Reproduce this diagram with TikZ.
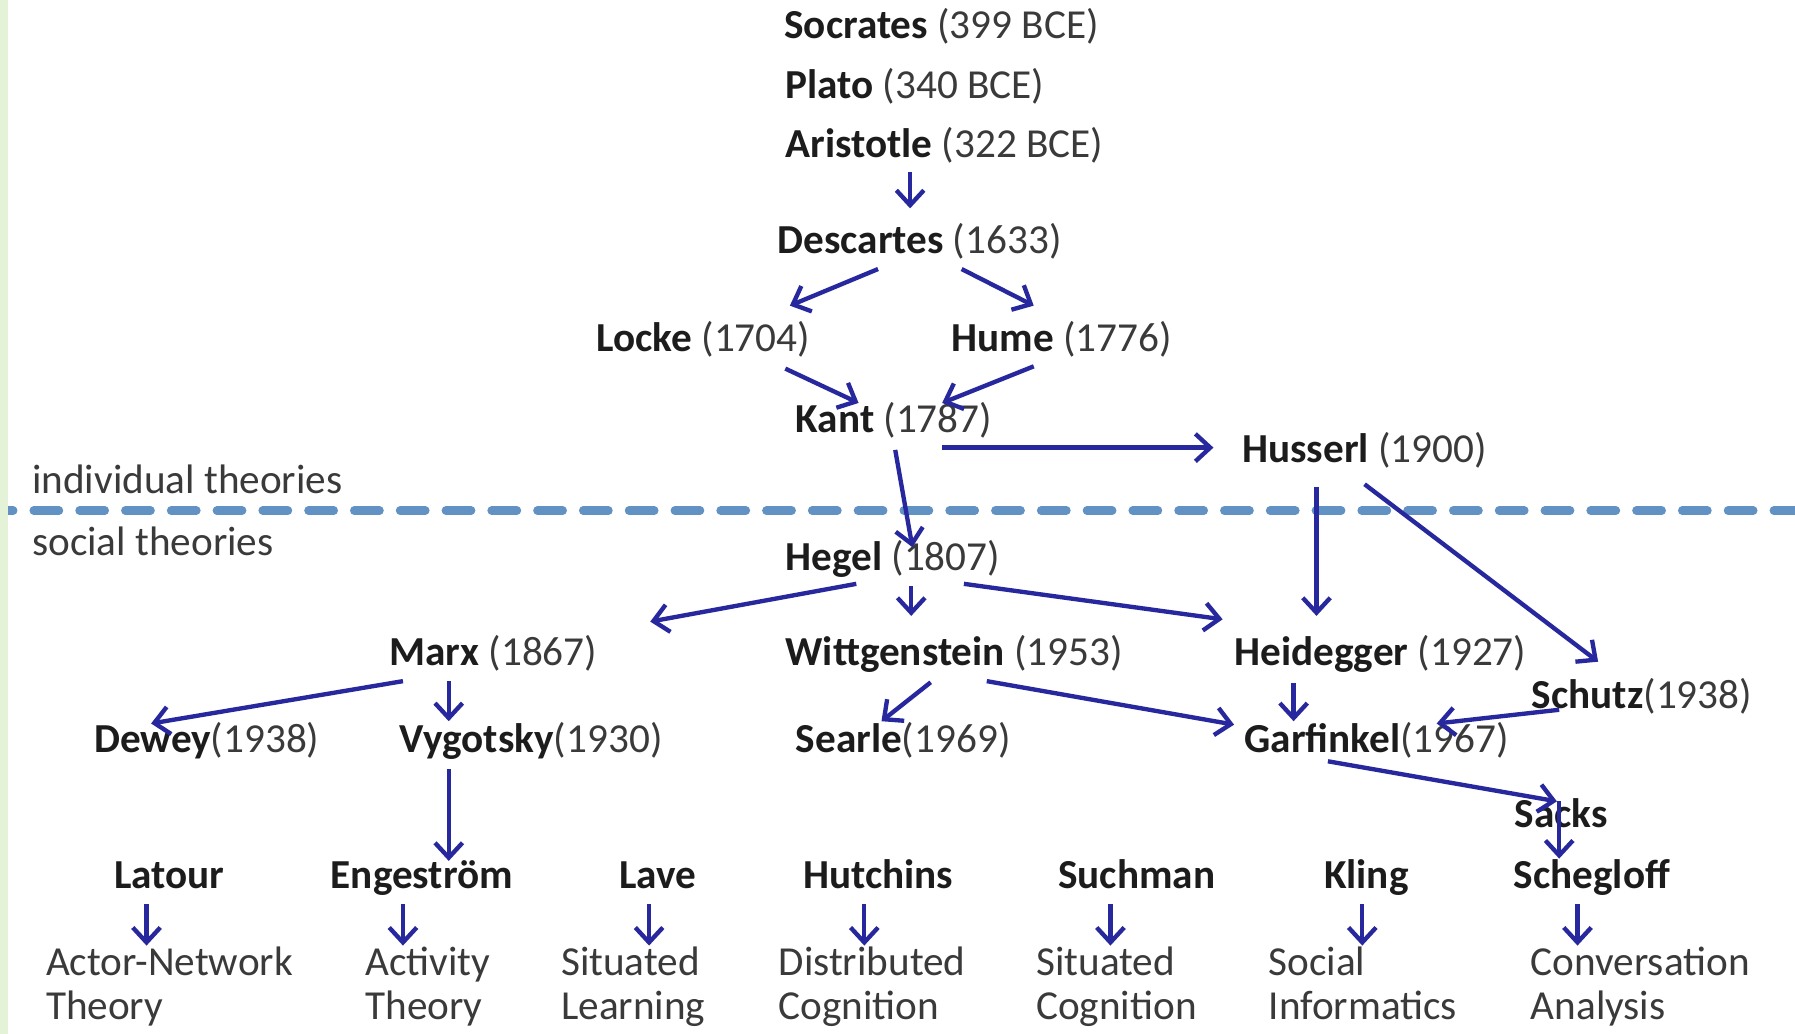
\documentclass[tikz,border=0pt]{standalone}
\usepackage{fontspec}
\setmainfont{Carlito}
\usetikzlibrary{arrows.meta}
\definecolor{arrc}{RGB}{40,40,158}
\definecolor{dashc}{RGB}{98,145,196}
\definecolor{namec}{RGB}{28,28,28}
\definecolor{yearc}{RGB}{58,58,58}
\definecolor{stripc}{RGB}{228,243,215}
\newcommand\pname[1]{{\color{namec}\bfseries #1}}
\begin{document}
\begin{tikzpicture}[x=1pt,y=-1pt,
  lbl/.style={anchor=west,inner sep=0pt,yshift=-8pt,font=\fontsize{36}{38}\selectfont,text=yearc,text height=0.64em,text depth=0pt},
  clbl/.style={lbl,anchor=center},
  multi/.style={anchor=north west,inner sep=0pt,font=\fontsize{36}{38}\selectfont,text=yearc,align=left},
  arr/.style={draw=arrc,line width=3.8pt,-{Straight Barb[length=13pt,width=24pt]}},
  divider/.style={draw=dashc,line width=7.5pt,line cap=round,dash pattern=on 22pt off 18pt}
]
\useasboundingbox[fill=white] (0,0) rectangle (1568,903);

% divider
\coordinate (dl) at (-10.5,446);
\coordinate (dr) at (1580,446);
\draw[divider] (dl) -- (dr);
\fill[stripc] (0,0) rectangle (7,903);

% section labels
\node[lbl] (indiv) at (28,420) {individual theories};
\node[lbl] (social) at (28,474) {social theories};

% people
\node[lbl] (socr) at (685,22) {\pname{Socrates} (399 BCE)};
\node[lbl] (plato) at (686,75) {\pname{Plato} (340 BCE)};
\node[lbl] (aris) at (686,126) {\pname{Aristotle} (322 BCE)};
\node[lbl] (desc) at (679,210) {\pname{Descartes} (1633)};
\node[lbl] (locke) at (521,296) {\pname{Locke} (1704)};
\node[lbl] (hume) at (831,296) {\pname{Hume} (1776)};
\node[lbl] (kant) at (695,367) {\pname{Kant} (1787)};
\node[lbl] (huss) at (1085,393) {\pname{Husserl} (1900)};
\node[lbl] (hegel) at (686,487) {\pname{Hegel} (1807)};
\node[lbl] (marx) at (340,570) {\pname{Marx} (1867)};
\node[lbl] (witt) at (686,570) {\pname{Wittgenstein} (1953)};
\node[lbl] (heid) at (1078,570) {\pname{Heidegger} (1927)};
\node[lbl] (schutz) at (1338,608) {\pname{Schutz}(1938)};
\node[lbl] (dewey) at (82,646) {\pname{Dewey}(1938)};
\node[lbl] (vygo) at (349,646) {\pname{Vygotsky}(1930)};
\node[lbl] (searle) at (695,646) {\pname{Searle}(1969)};
\node[lbl] (garf) at (1087,646) {\pname{Garfinkel}(1967)};
\node[lbl] (sacks) at (1323,712) {\pname{Sacks}};

% bottom row
\node[clbl] (latour) at (148,765) {\pname{Latour}};
\node[clbl] (enge) at (368.5,765) {\pname{Engeström}};
\node[clbl] (lave) at (574.5,765) {\pname{Lave}};
\node[clbl] (hutch) at (767,765) {\pname{Hutchins}};
\node[clbl] (such) at (993,765) {\pname{Suchman}};
\node[clbl] (kling) at (1193.5,765) {\pname{Kling}};
\node[clbl] (scheg) at (1390.5,765) {\pname{Schegloff}};

\node[multi] (ant) at (40,824) {\rule{0pt}{28pt}Actor-Network\\Theory};
\node[multi] (act) at (319,824) {\rule{0pt}{28pt}Activity\\Theory};
\node[multi] (sitl) at (490,824) {\rule{0pt}{28pt}Situated\\Learning};
\node[multi] (dist) at (680,824) {\rule{0pt}{28pt}Distributed\\Cognition};
\node[multi] (sitc) at (905,824) {\rule{0pt}{28pt}Situated\\Cognition};
\node[multi] (soc) at (1108,824) {\rule{0pt}{28pt}Social\\Informatics};
\node[multi] (conv) at (1337,824) {\rule{0pt}{28pt}Conversation\\Analysis};

% connectors: name / start / end
\foreach \n/\xa/\ya/\xb/\yb in {
  aris-desc/795/150/795/182,
  desc-locke/767/235/690/267,
  desc-hume/840/235/903/267,
  locke-kant/686/322/750/352,
  hume-kant/903/320/823/352,
  kant-huss/823/391/1060/391,
  kant-hegel/782/393/797/478,
  huss-heid/1150/425/1150/538,
  huss-schutz/1192/423/1396/578,
  hegel-marx/748/510/568/543,
  hegel-witt/796/512/796/538,
  hegel-heid/842/510/1068/541,
  marx-dewey/352/595/132/632,
  marx-vygo/392/595/392/630,
  witt-searle/813/596/770/630,
  witt-garf/862/595/1078/633,
  heid-garf/1130/597/1130/630,
  schutz-garf/1362/620/1255/632,
  garf-sacks/1160/665/1360/700,
  sacks-scheg/1362/700/1362/750,
  vygo-enge/392/672/392/752,
  latour-ant/128/790/128/826,
  enge-act/352/790/352/826,
  lave-sitl/567/790/567/826,
  hutch-dist/755/790/755/826,
  such-sitc/970/790/970/826,
  kling-soc/1190/790/1190/826,
  scheg-conv/1378/790/1378/826}
{
  \coordinate (\n-s) at (\xa,\ya);
  \coordinate (\n-e) at (\xb,\yb);
  \draw[arr] (\n-s) -- (\n-e);
}
\end{tikzpicture}
\end{document}
